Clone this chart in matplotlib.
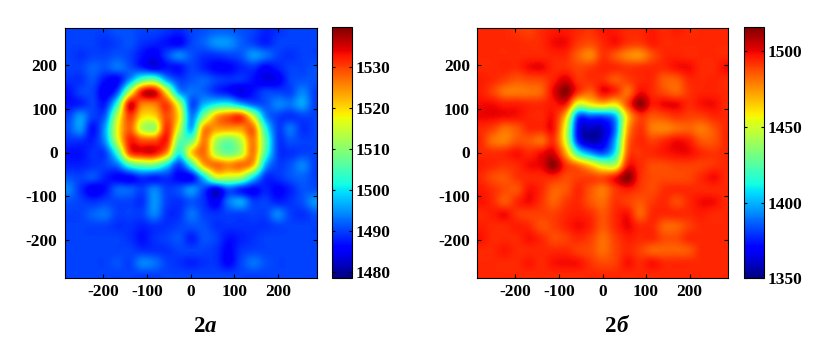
import numpy as np
import matplotlib
matplotlib.use("Agg")
import matplotlib.pyplot as plt

plt.rcParams['font.family'] = ['Liberation Serif', 'DejaVu Serif']
plt.rcParams['font.weight'] = 'bold'
plt.rcParams['axes.unicode_minus'] = False

W, H = 830, 360

axis_ticks = [-200, -100, 0, 100, 200]
cbar_ticks_a = [1480, 1490, 1500, 1510, 1520, 1530]
cbar_ticks_b = [1350, 1400, 1450, 1500]
range_a = (1478.5, 1539.6)
range_b = (1350, 1516)
label_a = "а"
label_b = "б"

field_a = [
[1490,1490,1490,1490,1491,1491,1490,1490,1489,1488,1490,1491,1492,1492,1491,1490,1488,1489,1490,1490,1490],
[1490,1490,1490,1489,1490,1491,1489,1488,1487,1486,1490,1492,1495,1495,1492,1490,1488,1490,1490,1490,1490],
[1490,1489,1490,1490,1491,1490,1487,1485,1490,1494,1491,1489,1489,1490,1491,1495,1493,1490,1489,1490,1490],
[1490,1490,1492,1491,1493,1491,1488,1485,1487,1487,1490,1488,1486,1486,1488,1489,1486,1488,1490,1490,1491],
[1489,1489,1491,1487,1486,1495,1506,1508,1496,1490,1491,1492,1490,1489,1489,1487,1484,1485,1490,1491,1491],
[1487,1490,1490,1485,1491,1514,1533,1535,1518,1496,1493,1492,1489,1487,1484,1487,1490,1490,1490,1494,1490],
[1487,1488,1490,1488,1504,1534,1526,1526,1530,1514,1491,1497,1501,1502,1497,1492,1491,1494,1493,1496,1490],
[1490,1495,1490,1492,1514,1530,1520,1520,1529,1519,1494,1509,1523,1528,1530,1515,1495,1490,1489,1490,1490],
[1491,1495,1487,1496,1517,1528,1514,1512,1531,1515,1497,1524,1524,1524,1524,1527,1503,1490,1493,1489,1490],
[1489,1489,1488,1495,1515,1532,1529,1529,1532,1508,1508,1526,1513,1508,1514,1526,1507,1490,1491,1490,1490],
[1487,1487,1489,1490,1504,1529,1533,1533,1524,1502,1520,1527,1513,1508,1513,1526,1505,1490,1489,1490,1490],
[1488,1488,1489,1490,1493,1504,1508,1508,1500,1490,1503,1522,1527,1525,1527,1522,1497,1490,1491,1494,1490],
[1491,1490,1491,1488,1486,1486,1489,1488,1489,1486,1486,1499,1514,1514,1512,1500,1489,1489,1491,1492,1490],
[1494,1489,1485,1487,1492,1492,1490,1494,1490,1491,1495,1490,1484,1491,1488,1486,1488,1486,1488,1491,1491],
[1491,1490,1489,1490,1490,1490,1489,1495,1490,1489,1491,1489,1485,1493,1496,1490,1490,1488,1489,1491,1495],
[1490,1490,1492,1493,1490,1490,1490,1494,1489,1489,1493,1490,1489,1490,1490,1490,1490,1494,1490,1489,1491],
[1490,1490,1490,1490,1489,1489,1488,1489,1489,1490,1491,1491,1489,1489,1489,1489,1489,1490,1490,1490,1490],
[1490,1490,1490,1490,1490,1489,1487,1489,1490,1491,1488,1491,1490,1487,1488,1489,1490,1490,1490,1490,1490],
[1490,1490,1490,1490,1490,1490,1489,1489,1489,1490,1490,1490,1489,1486,1489,1490,1490,1490,1490,1490,1490],
[1490,1490,1490,1490,1491,1490,1494,1493,1490,1489,1488,1489,1489,1486,1490,1493,1491,1490,1490,1490,1490],
[1490,1490,1490,1490,1490,1490,1490,1490,1490,1490,1490,1490,1490,1490,1490,1490,1490,1490,1490,1490,1490],
]

field_b = [
[1494,1494,1494,1492,1490,1494,1497,1497,1494,1492,1497,1497,1494,1494,1497,1494,1496,1494,1494,1494,1494],
[1494,1494,1494,1494,1493,1494,1499,1499,1491,1488,1494,1498,1492,1491,1496,1494,1494,1494,1494,1494,1494],
[1494,1494,1494,1494,1494,1494,1495,1494,1484,1478,1492,1486,1478,1476,1487,1494,1495,1494,1494,1494,1494],
[1494,1494,1495,1494,1499,1500,1494,1493,1489,1491,1495,1494,1492,1493,1494,1494,1498,1499,1494,1494,1499],
[1496,1494,1490,1486,1488,1489,1496,1503,1492,1493,1493,1486,1490,1494,1494,1485,1485,1494,1494,1495,1494],
[1496,1490,1481,1480,1481,1484,1501,1514,1492,1484,1499,1494,1482,1499,1494,1488,1484,1492,1495,1495,1494],
[1499,1499,1496,1496,1494,1494,1497,1496,1450,1458,1465,1460,1488,1513,1497,1500,1500,1494,1498,1499,1494],
[1500,1500,1499,1498,1495,1494,1497,1465,1385,1385,1385,1400,1465,1491,1486,1488,1492,1490,1490,1494,1494],
[1494,1490,1482,1486,1494,1494,1497,1450,1370,1360,1362,1390,1470,1492,1480,1478,1482,1484,1480,1486,1494],
[1494,1482,1479,1486,1486,1482,1492,1450,1375,1358,1365,1400,1478,1494,1490,1494,1499,1496,1486,1486,1494],
[1494,1493,1494,1498,1494,1499,1502,1470,1418,1395,1385,1412,1484,1492,1494,1497,1499,1499,1494,1492,1494],
[1496,1494,1492,1494,1499,1501,1513,1492,1480,1464,1446,1446,1496,1494,1488,1488,1490,1490,1490,1492,1494],
[1494,1488,1486,1492,1494,1494,1494,1488,1490,1490,1488,1498,1514,1494,1488,1488,1488,1489,1494,1499,1494],
[1497,1493,1488,1487,1498,1494,1484,1486,1494,1486,1480,1491,1496,1491,1488,1493,1494,1494,1494,1494,1494],
[1498,1494,1486,1494,1499,1492,1484,1491,1494,1486,1482,1492,1490,1486,1491,1494,1488,1494,1499,1499,1494],
[1494,1496,1499,1492,1490,1490,1490,1494,1496,1493,1486,1494,1498,1484,1494,1494,1494,1494,1496,1494,1494],
[1496,1494,1494,1496,1494,1487,1490,1495,1499,1495,1486,1494,1500,1494,1494,1484,1484,1490,1494,1494,1494],
[1498,1494,1494,1494,1498,1494,1488,1490,1494,1490,1482,1490,1496,1494,1494,1488,1488,1494,1494,1494,1494],
[1494,1494,1497,1494,1494,1494,1494,1494,1490,1488,1482,1489,1494,1490,1484,1484,1484,1486,1494,1494,1494],
[1494,1494,1494,1494,1497,1494,1498,1499,1498,1492,1488,1490,1498,1494,1498,1494,1494,1494,1494,1494,1494],
[1494,1494,1494,1494,1494,1494,1494,1494,1494,1494,1494,1494,1494,1494,1494,1494,1494,1494,1494,1494,1494],
]

def box(x0, y0, x1, y1):
    return [x0 / W, 1 - y1 / H, (x1 - x0) / W, (y1 - y0) / H]

fig = plt.figure(figsize=(W / 100, H / 100), dpi=100)

def panel(field, vrange, ticks, axbox, cbox, label, lx):
    ax = fig.add_axes(box(*axbox))
    im = ax.imshow(np.array(field, dtype=float), cmap='jet', vmin=vrange[0], vmax=vrange[1],
                   extent=[-296, 296, -294, 294], origin='upper', aspect='auto',
                   interpolation='catrom')
    ax.set_xlim(-289, 289)
    ax.set_ylim(-287, 287)
    ax.set_xticks(axis_ticks)
    ax.set_yticks(axis_ticks)
    ax.tick_params(direction='in', top=True, right=True, length=3, width=0.8,
                   labelsize=12.5, pad=5)
    cax = fig.add_axes(box(*cbox))
    cb = fig.colorbar(im, cax=cax, ticks=ticks)
    cb.ax.tick_params(direction='in', length=2.5, width=0.8, labelsize=12.5, pad=3,
                      left=True, right=True)
    fig.text(lx / W, 1 - 326 / H, "2", fontsize=16.5, fontweight='bold',
             ha='right', va='center')
    fig.text(lx / W, 1 - 326 / H, label, fontsize=16.5, fontweight='bold', style='italic',
             ha='left', va='center')

panel(field_a, range_a, cbar_ticks_a, (64.5, 27.5, 316.7, 277.5), (332.3, 27.3, 351.7, 278.3), label_a, 205)
panel(field_b, range_b, cbar_ticks_b, (476.7, 27.5, 728.3, 277.5), (744.3, 27.3, 763.7, 278.3), label_b, 616)

fig.savefig("out.png", dpi=100)
